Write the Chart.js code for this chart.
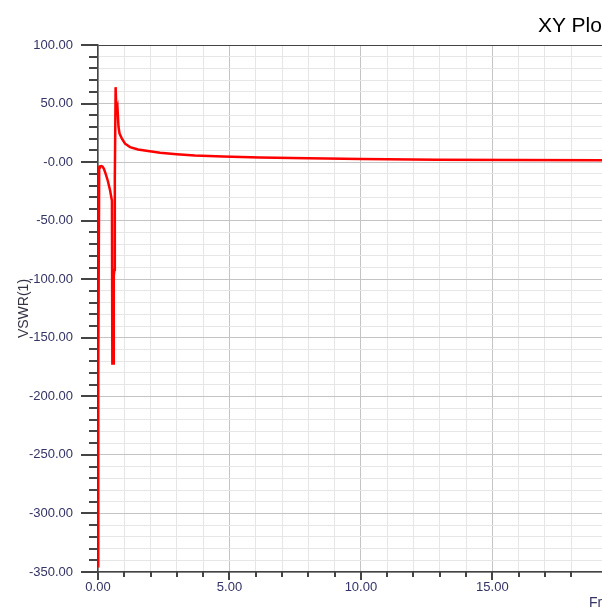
<!DOCTYPE html>
<html>
<head>
<meta charset="utf-8">
<title>XY Plot 1</title>
<script src="https://cdn.jsdelivr.net/npm/chart.js@4.4.1/dist/chart.umd.min.js"></script>
<style>
    html, body { margin: 0; padding: 0; background: #fff; overflow: hidden; }
    #wrap { position: relative; width: 602px; height: 607px; overflow: hidden; }
    #plot-title {
        position: absolute; left: 538px; top: 14px;
        font: 21px "Liberation Sans", Arial, sans-serif; line-height: 21px;
        color: #000; white-space: nowrap;
    }
    #x-title {
        position: absolute; left: 589px; top: 595px;
        font: 14px "Liberation Sans", Arial, sans-serif; line-height: 14px;
        color: #333366; white-space: nowrap;
    }
</style>
</head>
<body>
<div id="wrap">
    <canvas id="xyChart" width="602" height="607"></canvas>
    <div id="plot-title">XY Plot 1</div>
    <div id="x-title">Freq [GHz]</div>
</div>

<script>
// --- Data ---
const freqGHz = [0, 0.01, 0.045, 0.07, 0.12, 0.17, 0.22, 0.27, 0.37, 0.46, 0.53,
    0.545, 0.575, 0.60, 0.625, 0.64, 0.67, 0.70, 0.74, 0.78, 0.82, 0.91, 1.03,
    1.22, 1.52, 1.97, 2.36, 2.99, 3.68, 4.75, 6.15, 8.0, 10.0, 12.9, 16.0, 19.2];
const vswr = [-345, -175, -4.5, -3.7, -3.4, -3.8, -5.5, -8.6, -15.7, -24.2, -33,
    -172, -172, -97, -92, -14, 64, 44, 47, 30, 24.3, 20, 15.7,
    12.8, 10.8, 9.3, 8.0, 6.8, 5.7, 4.8, 4.0, 3.2, 2.6, 2.0, 1.7, 1.5];

const yTickValues = [100, 50, 0, -50, -100, -150, -200, -250, -300, -350];
const yTickLabels = ['100.00', '50.00', '-0.00', '-50.00', '-100.00', '-150.00',
    '-200.00', '-250.00', '-300.00', '-350.00'];
const xTickValues = [0, 5, 10, 15];
const xTickLabels = ['0.00', '5.00', '10.00', '15.00'];

const labelColor = '#333366';
const axisColor = '#444444';
const majorGrid = '#c4c4c4';
const minorGrid = '#e6e6e6';

// --- Tick marks: long for labelled ticks, short for the rest ---
const tickMarks = {
    id: 'tickMarks',
    afterDraw(chart) {
        const { ctx } = chart;
        const xs = chart.scales.x;
        const ys = chart.scales.y;
        ctx.save();
        ctx.strokeStyle = axisColor;
        ctx.lineWidth = 2;
        ctx.beginPath();
        ys.ticks.forEach(t => {
            const py = Math.round(ys.getPixelForValue(t.value));
            const len = yTickValues.includes(t.value) ? 17 : 9;
            ctx.moveTo(ys.right - len, py);
            ctx.lineTo(ys.right, py);
        });
        xs.ticks.forEach(t => {
            if (!Number.isInteger(t.value)) return;
            const px = Math.round(xs.getPixelForValue(t.value));
            const len = xTickValues.includes(t.value) ? 8 : 5;
            ctx.moveTo(px, xs.top);
            ctx.lineTo(px, xs.top + len);
        });
        ctx.stroke();
        ctx.restore();
    }
};

function gridColorY(ctx) {
    const v = ctx.tick ? ctx.tick.value : null;
    if (v === 100) return axisColor;
    return yTickValues.includes(v) ? majorGrid : minorGrid;
}

function gridColorX(ctx) {
    const v = ctx.tick ? ctx.tick.value : null;
    if (!Number.isInteger(v)) return 'rgba(0,0,0,0)';
    return xTickValues.includes(v) ? majorGrid : minorGrid;
}

document.addEventListener('DOMContentLoaded', () => {
    const ctx = document.getElementById('xyChart').getContext('2d');
    Chart.defaults.font.family = '"Liberation Sans", Arial, sans-serif';

    new Chart(ctx, {
        type: 'line',
        data: {
            datasets: [{
                label: 'VSWR(1)',
                data: freqGHz.map((f, i) => ({ x: f, y: vswr[i] })),
                borderColor: '#ff0000',
                borderWidth: 2.5,
                pointRadius: 0,
                tension: 0,
                fill: false
            }]
        },
        options: {
            responsive: false,
            animation: false,
            layout: { padding: { top: 45, left: 0, right: 0, bottom: 0 } },
            plugins: {
                legend: { display: false },
                tooltip: { enabled: false }
            },
            scales: {
                x: {
                    type: 'linear',
                    min: 0,
                    max: 19.17,
                    border: { color: axisColor, width: 1.5 },
                    grid: {
                        color: gridColorX,
                        drawTicks: true,
                        tickLength: 8,
                        tickColor: 'rgba(0,0,0,0)'
                    },
                    ticks: {
                        stepSize: 1,
                        autoSkip: false,
                        maxRotation: 0,
                        padding: 0,
                        color: labelColor,
                        font: { size: 13 },
                        callback: (v) => {
                            const i = xTickValues.indexOf(v);
                            return i >= 0 ? xTickLabels[i] : '';
                        }
                    },
                    afterFit: (scale) => { scale.height = 35; }
                },
                y: {
                    type: 'linear',
                    min: -350,
                    max: 100,
                    border: { color: axisColor, width: 1.5 },
                    grid: {
                        color: gridColorY,
                        drawTicks: true,
                        tickLength: 17,
                        tickColor: 'rgba(0,0,0,0)'
                    },
                    ticks: {
                        stepSize: 10,
                        autoSkip: false,
                        padding: 8,
                        color: labelColor,
                        font: { size: 13 },
                        callback: (v) => {
                            const i = yTickValues.indexOf(v);
                            return i >= 0 ? yTickLabels[i] : '';
                        }
                    },
                    title: {
                        display: true,
                        text: 'VSWR(1)',
                        color: '#333344',
                        font: { size: 14 },
                        padding: { top: 16, bottom: 0 }
                    },
                    afterFit: (scale) => { scale.width = 98; }
                }
            }
        },
        plugins: [tickMarks]
    });
});
</script>
</body>
</html>
